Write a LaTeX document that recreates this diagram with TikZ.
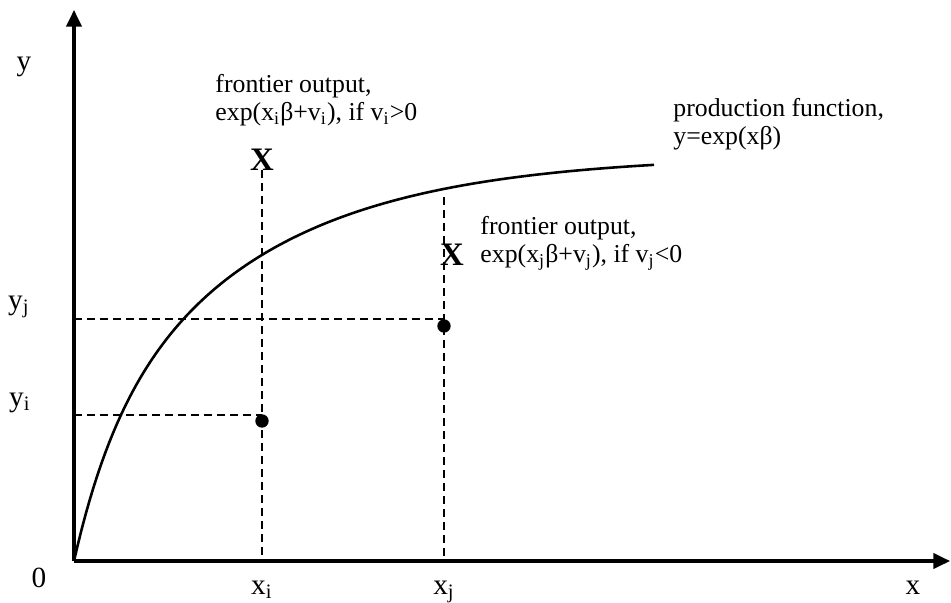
\documentclass[tikz,border=0pt]{standalone}
\usepackage{fontspec}
\setmainfont{Liberation Serif}
\usetikzlibrary{arrows.meta,positioning,calc}
\tikzset{
  >={Triangle[length=2.5mm,width=2.3mm]},
  axis/.style={->,line width=1.3pt},
  curve/.style={line width=1.1pt},
  guide/.style={line width=0.85pt,dash pattern=on 1.2mm off 0.75mm},
  pt/.style={circle,fill=black,inner sep=0pt,minimum size=2mm},
  xmark/.style={font=\fontsize{14}{16}\selectfont\bfseries,inner sep=0pt,anchor=base},
  lab/.style={font=\fontsize{12.5}{14}\selectfont,inner sep=0pt,anchor=base},
  note/.style={font=\fontsize{11}{12}\selectfont,align=left,inner sep=0pt,anchor=west},
}
\begin{document}
\begin{tikzpicture}[x=0.15mm,y=0.15mm]
  \useasboundingbox (-74,-41) rectangle (877,561);
  % ---- axes ----
  \coordinate (O)    at (0,0);
  \coordinate (ytop) at (0,551);
  \coordinate (xend) at (876,0);
  \draw[axis] (O) -- (ytop);
  \draw[axis] (O) -- (xend);

  % ---- production function ----
  \draw[curve] plot[domain=0:580,samples=150]
    (\x,{299*(1-exp(-\x/170))+107*(1-exp(-\x/40))});
  \coordinate (cj) at (370,364);

  % ---- frontier marks and observed points ----
  \node[xmark] (Xi) at (188,391) {X};
  \node[xmark] (Xj) at (378,296) {X};
  \coordinate (yil) at (0,146);
  \coordinate (yjl) at (0,242);
  \draw[guide] (Xi.south) -- (Xi.south |- O);
  \draw[guide] (cj) -- (cj |- O);
  \draw[guide] (yil) -- (yil -| Xi.south);
  \draw[guide] (yjl) -- (yjl -| cj);
  \node[pt] (di) at (188,140) {};
  \node[pt] (dj) at (370,235) {};

  % ---- axis labels ----
  \node[lab] (ly)  at (-50,490) {y};
  \node[lab] (lyj) at (-55,252) {y\textsubscript{j}};
  \node[lab] (lyi) at (-54,155) {y\textsubscript{i}};
  \node[lab] (l0)  at (-35,-26) {0};
  \node[lab] (lxi) at (188,-33) {x\textsubscript{i}};
  \node[lab] (lxj) at (370,-33) {x\textsubscript{j}};
  \node[lab] (lx)  at (839,-33) {x};

  % ---- notes ----
  \node[note] (ni) at (141,461) {frontier output,\\exp(x\textsubscript{i}β+v\textsubscript{i}), if v\textsubscript{i}>0};
  \node[note] (nf) at (599,437) {production function,\\y=exp(xβ)};
  \node[note] (nj) at (406,318) {frontier output,\\exp(x\textsubscript{j}β+v\textsubscript{j}), if v\textsubscript{j}<0};
\end{tikzpicture}
\end{document}
